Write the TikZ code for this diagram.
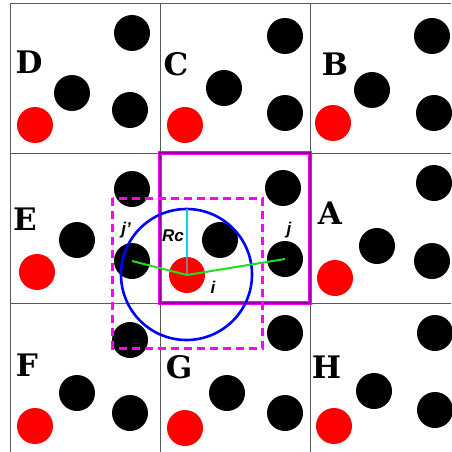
\documentclass[tikz,border=0pt]{standalone}
\usepackage{fontspec}
\setsansfont{Liberation Sans}
\newfontfamily\cellfont{DejaVu Serif}
\definecolor{lgreen}{RGB}{30,225,30}
\definecolor{dpurple}{RGB}{150,0,160}
\definecolor{mag}{RGB}{255,0,255}
\definecolor{bblue}{RGB}{0,0,255}
\definecolor{ccyan}{RGB}{0,220,230}
\definecolor{rred}{RGB}{255,0,0}
\begin{document}
\begin{tikzpicture}[x=1pt,y=-1pt,
  bk/.style={circle,fill=black,minimum size=36pt,inner sep=0pt},
  rd/.style={circle,fill=rred,minimum size=36pt,inner sep=0pt},
  cell/.style={font=\cellfont\bfseries\fontsize{31}{31}\selectfont,inner sep=0pt},
  lab/.style={font=\sffamily\bfseries\itshape\fontsize{17}{17}\selectfont,inner sep=0pt},
  gridline/.style={draw=black!65,line width=0.9pt}]
\useasboundingbox (0,0) rectangle (451,452);
\fill[white] (0,0) rectangle (451,452);
% grid
\draw[gridline] (10,3) -- (10,452);
\draw[gridline] (160,3) -- (160,452);
\draw[gridline] (310,3) -- (310,452);
\draw[gridline] (10,3.5) -- (451,3.5);
\draw[gridline] (10,153) -- (451,153);
\draw[gridline] (10,303) -- (451,303);
% cell D
\node[cell] (lD) at (29,62) {D};
\node[rd] (D0) at (35,125) {};
\node[bk] (D1) at (72,93) {};
\node[bk] (D2) at (132,33) {};
\node[bk] (D3) at (130,110) {};
% cell C
\node[cell] (lC) at (176,64) {C};
\node[rd] (C0) at (185,125) {};
\node[bk] (C1) at (224,88) {};
\node[bk] (C2) at (285,36) {};
\node[bk] (C3) at (285,113) {};
% cell B
\node[cell] (lB) at (335,64) {B};
\node[rd] (B0) at (333,123) {};
\node[bk] (B1) at (372,90) {};
\node[bk] (B2) at (432,36) {};
\node[bk] (B3) at (434,113) {};
% cell E
\node[cell] (lE) at (25,219) {E};
\node[rd] (E0) at (37,272) {};
\node[bk] (E1) at (77,240) {};
\node[bk] (E2) at (132,189) {};
\node[bk] (E3) at (132,261) {};
% centre cell
\node[rd] (i) at (187,275) {};
\node[bk] (M1) at (220,240) {};
\node[bk] (M2) at (283,188) {};
\node[bk] (M3) at (285,259) {};
% cell A
\node[cell] (lA) at (330,213) {A};
\node[rd] (A0) at (335,278) {};
\node[bk] (A1) at (377,246) {};
\node[bk] (A2) at (434,183) {};
\node[bk] (A3) at (432,261) {};
% cell F
\node[cell] (lF) at (27,365) {F};
\node[rd] (F0) at (35,426) {};
\node[bk] (F1) at (77,393) {};
\node[bk] (F2) at (130,340) {};
\node[bk] (F3) at (130,413) {};
% cell G
\node[cell] (lG) at (179,367) {G};
\node[rd] (G0) at (185,428) {};
\node[bk] (G1) at (227,393) {};
\node[bk] (G2) at (285,333) {};
\node[bk] (G3) at (285,413) {};
% cell H
\node[cell] (lH) at (326.5,367) {H};
\node[rd] (H0) at (334,426) {};
\node[bk] (H1) at (374,391) {};
\node[bk] (H2) at (435,333) {};
\node[bk] (H3) at (435,410) {};
% central box
\draw[mag,line width=3.6pt] (160,153) rectangle (310,303);
\draw[dpurple,line width=1.2pt] (160,153) rectangle (310,303);
% dashed box
\draw[mag,line width=2.6pt,dash pattern=on 8pt off 5pt] (112.7,198.3) rectangle (262.3,348.3);
% cut-off circle
\draw[bblue,line width=2.6pt] (186.5,274.5) circle[radius=65.5];
% radius
\coordinate (rctop) at (187,209);
\draw[ccyan,line width=1.4pt] (rctop) -- (i.north);
\draw[black!50,line width=1.4pt] (i.north) -- (i.center);
% neighbour links
\draw[lgreen,line width=2pt] (i.center) -- (E3.center);
\draw[lgreen,line width=2pt] (i.center) -- (M3.center);
% labels
\node[lab] (ljp) at (126,230.5) {j’};
\node[lab] (lRc) at (173,236) {Rc};
\node[lab] (lj) at (289,230) {j};
\node[lab] (li) at (213,287) {i};
\end{tikzpicture}
\end{document}
